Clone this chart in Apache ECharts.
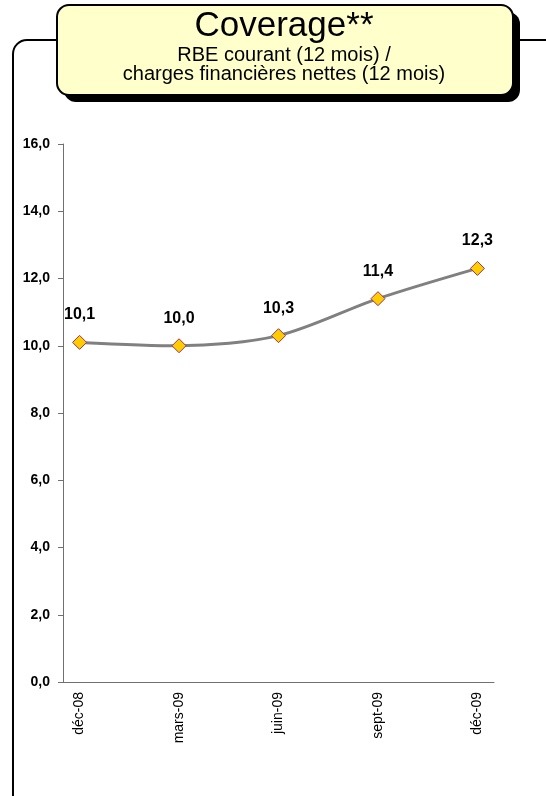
<!DOCTYPE html>
<html>
<head>
<meta charset="utf-8">
<title>Coverage</title>
<script src="https://cdn.jsdelivr.net/npm/echarts@6/dist/echarts.min.js"></script>
<style>
  html, body { margin: 0; padding: 0; background: #fff; }
  #chart { width: 546px; height: 796px; }
</style>
</head>
<body>
<div id="chart"></div>
<script>
// months on the date axis (one category per month)
var months = ['déc-08', 'janv-09', 'févr-09', 'mars-09', 'avr-09', 'mai-09', 'juin-09',
              'juil-09', 'août-09', 'sept-09', 'oct-09', 'nov-09', 'déc-09'];
// quarter-end points
var quarters = ['déc-08', 'mars-09', 'juin-09', 'sept-09', 'déc-09'];
var coverage = [10.1, 10.0, 10.3, 11.4, 12.3];

var titleText = 'Coverage**';
var subLines = ['RBE courant (12 mois) /', 'charges financières nettes (12 mois)'];

var fr = function (v) { return v.toFixed(1).replace('.', ','); };

var points = [];
for (var i = 0; i < quarters.length; i++) {
  points.push([quarters[i], coverage[i]]);
}

var chart = echarts.init(document.getElementById('chart'));
chart.setOption({
  animation: false,
  backgroundColor: '#fff',
  grid: { left: 63, right: 52, top: 144, bottom: 114 },
  xAxis: {
    type: 'category',
    data: months,
    boundaryGap: true,
    axisLine: { lineStyle: { color: '#707070', width: 1 } },
    axisTick: { interval: 2, length: 5, lineStyle: { color: '#707070' } },
    axisLabel: {
      interval: 2, rotate: 90, margin: 10,
      fontFamily: 'Arial, Liberation Sans', fontSize: 14, color: '#000'
    },
    splitLine: { show: false }
  },
  yAxis: {
    type: 'value',
    min: 0, max: 16, interval: 2,
    axisLine: { show: true, lineStyle: { color: '#707070', width: 1 } },
    axisTick: { show: true, length: 5, lineStyle: { color: '#707070' } },
    axisLabel: {
      formatter: fr, margin: 13,
      fontFamily: 'Arial, Liberation Sans', fontSize: 14, fontWeight: 'bold', color: '#000'
    },
    splitLine: { show: false }
  },
  series: [{
    type: 'line',
    data: points,
    smooth: 0.3,
    symbol: 'diamond',
    symbolSize: 14,
    lineStyle: { color: '#808080', width: 3 },
    itemStyle: { color: '#FFCC00', borderColor: '#993366', borderWidth: 1 },
    label: {
      show: true, position: 'top', distance: 12,
      formatter: function (p) { return fr(p.value[1]); },
      fontFamily: 'Arial, Liberation Sans', fontSize: 16, fontWeight: 'bold', color: '#000'
    }
  }],
  graphic: [
    // outer rounded frame (runs off the right and bottom edges)
    { type: 'rect', z: -10, silent: true,
      shape: { x: 13, y: 40, width: 600, height: 800, r: 14 },
      style: { fill: 'none', stroke: '#000', lineWidth: 2 } },
    // title box shadow
    { type: 'rect', z: 10, silent: true,
      shape: { x: 64, y: 12, width: 456, height: 90, r: 12 },
      style: { fill: '#000' } },
    // title box
    { type: 'rect', z: 11, silent: true,
      shape: { x: 57, y: 5, width: 456, height: 90, r: 12 },
      style: { fill: '#FFFFCC', stroke: '#000', lineWidth: 2 } },
    { type: 'text', z: 12, silent: true, x: 284, y: 9,
      style: { text: titleText, fill: '#000', font: '35px Arial, "Liberation Sans"',
               align: 'center', verticalAlign: 'top' } },
    { type: 'text', z: 12, silent: true, x: 284, y: 45,
      style: { text: subLines[0], fill: '#000', font: '20px Arial, "Liberation Sans"',
               align: 'center', verticalAlign: 'top' } },
    { type: 'text', z: 12, silent: true, x: 284, y: 64,
      style: { text: subLines[1], fill: '#000', font: '20px Arial, "Liberation Sans"',
               align: 'center', verticalAlign: 'top' } }
  ]
});
</script>
</body>
</html>
